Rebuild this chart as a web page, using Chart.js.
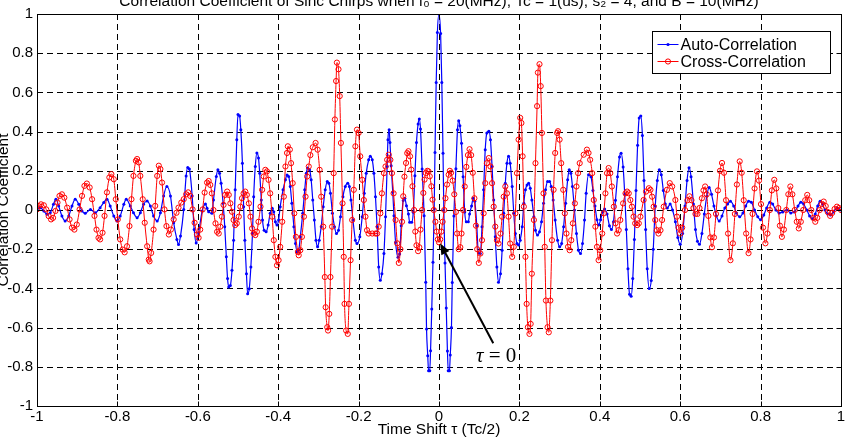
<!DOCTYPE html>
<html><head><meta charset="utf-8">
<script src="https://cdn.jsdelivr.net/npm/chart.js@4/dist/chart.umd.min.js"></script>
<style>html,body{margin:0;padding:0;background:#fff;overflow:hidden}#wrap{width:850px;height:438px}</style>
</head><body><div id="wrap"><canvas id="c" width="850" height="438"></canvas></div>
<script>
// ---------- data ----------
const titleText = "Correlation Coefficient of Sinc Chirps when f\u2080 = 20(MHz), Tc = 1(us), s\u2082 = 4, and B = 10(MHz)";
const xTitle = "Time Shift \u03C4 (Tc/2)";
const yTitle = "Correlation Coefficient";
const seriesNames = ["Auto-Correlation", "Cross-Correlation"];
const xTicks = [-1, -0.8, -0.6, -0.4, -0.2, 0, 0.2, 0.4, 0.6, 0.8, 1];
const yTicks = [-1, -0.8, -0.6, -0.4, -0.2, 0, 0.2, 0.4, 0.6, 0.8, 1];

// Auto-correlation: [time shift, coefficient]
const autoCorr = [
[-1.000,0],[-0.992,0.012],[-0.983,-0.005],[-0.975,-0.022],[-0.967,-0.014],[-0.959,0.029],[-0.953,0.055],[-0.946,0.02],[-0.938,-0.031],[-0.930,-0.056],
[-0.921,-0.031],[-0.913,0.02],[-0.905,0.055],[-0.896,0.029],[-0.888,-0.005],[-0.880,-0.017],[-0.867,0.003],[-0.855,-0.014],[-0.843,0.012],[-0.834,0.038],
[-0.826,0.055],[-0.818,0.02],[-0.809,-0.031],[-0.801,-0.056],[-0.793,-0.031],[-0.784,0.029],[-0.778,0.055],[-0.768,0.02],[-0.760,-0.014],[-0.751,-0.039],
[-0.743,-0.014],[-0.735,0.029],[-0.726,0.046],[-0.718,0.02],[-0.710,-0.031],[-0.701,-0.056],[-0.693,-0.014],[-0.685,0.072],[-0.677,0.12],[-0.668,0.072],
[-0.660,-0.065],[-0.652,-0.15],[-0.648,-0.176],[-0.643,-0.133],[-0.635,0.003],[-0.629,0.174],[-0.625,0.217],[-0.621,0.209],[-0.614,0.072],[-0.609,-0.099],
[-0.604,-0.168],[-0.598,-0.116],[-0.589,-0.005],[-0.581,0.03],[-0.577,0.009],[-0.573,-0.009],[-0.565,-0.017],[-0.561,0.051],[-0.554,0.171],[-0.550,0.205],
[-0.546,0.188],[-0.542,0.137],[-0.537,0.034],[-0.533,-0.085],[-0.529,-0.239],[-0.526,-0.35],[-0.523,-0.393],[-0.519,-0.385],[-0.515,-0.308],[-0.511,-0.154],
[-0.507,0.103],[-0.503,0.359],[-0.500,0.487],[-0.496,0.479],[-0.493,0.41],[-0.489,0.239],[-0.486,0.017],[-0.483,-0.154],[-0.479,-0.325],[-0.476,-0.427],
[-0.472,-0.402],[-0.468,-0.291],[-0.464,-0.12],[-0.461,0.068],[-0.457,0.222],[-0.453,0.291],[-0.449,0.265],[-0.446,0.188],[-0.442,0.051],[-0.439,-0.051],
[-0.435,-0.103],[-0.430,-0.111],[-0.425,-0.077],[-0.420,-0.017],[-0.415,0.009],[-0.411,-0.009],[-0.407,-0.06],[-0.403,-0.077],[-0.399,-0.051],[-0.395,0.017],
[-0.388,0.103],[-0.382,0.154],[-0.378,0.179],[-0.374,0.171],[-0.370,0.12],[-0.366,0.034],[-0.361,-0.085],[-0.357,-0.171],[-0.353,-0.214],[-0.349,-0.205],
[-0.345,-0.137],[-0.339,-0.017],[-0.334,0.103],[-0.330,0.188],[-0.327,0.214],[-0.322,0.205],[-0.318,0.154],[-0.314,0.051],[-0.310,-0.051],[-0.306,-0.154],
[-0.302,-0.188],[-0.298,-0.154],[-0.293,-0.085],[-0.288,0.017],[-0.283,0.103],[-0.278,0.145],[-0.274,0.137],[-0.270,0.085],[-0.265,-0.017],[-0.260,-0.085],
[-0.255,-0.12],[-0.250,-0.103],[-0.245,-0.034],[-0.239,0.068],[-0.233,0.12],[-0.227,0.137],[-0.223,0.12],[-0.219,0.051],[-0.214,-0.051],[-0.208,-0.154],
[-0.204,-0.171],[-0.197,-0.137],[-0.191,-0.034],[-0.186,0.085],[-0.181,0.188],[-0.175,0.256],[-0.171,0.274],[-0.166,0.256],[-0.162,0.188],[-0.158,0.068],
[-0.154,-0.085],[-0.150,-0.291],[-0.146,-0.359],[-0.142,-0.325],[-0.137,-0.222],[-0.133,-0.034],[-0.129,0.222],[-0.127,0.359],[-0.124,0.41],[-0.122,0.345],
[-0.119,0.226],[-0.115,0.09],[-0.112,-0.029],[-0.108,-0.165],[-0.102,-0.241],[-0.098,-0.224],[-0.094,-0.08],[-0.089,0.048],[-0.085,0.06],[-0.081,0.022],
[-0.076,-0.02],[-0.073,-0.063],[-0.068,-0.063],[-0.064,-0.012],[-0.060,0.175],[-0.056,0.345],[-0.052,0.439],[-0.049,0.464],[-0.046,0.413],[-0.042,0.209],
[-0.037,-0.029],[-0.033,-0.369],[-0.031,-0.607],[-0.028,-0.743],[-0.026,-0.82],[-0.023,-0.82],[-0.021,-0.718],[-0.018,-0.505],[-0.015,-0.267],[-0.012,0.005],
[-0.010,0.294],[-0.007,0.651],[-0.004,0.906],[0.000,1.0],[0.004,0.9],[0.007,0.65],[0.010,0.29],[0.012,0.0],[0.015,-0.27],[0.018,-0.5],
[0.021,-0.72],[0.023,-0.82],[0.026,-0.82],[0.028,-0.74],[0.031,-0.6],[0.033,-0.37],[0.037,-0.03],[0.042,0.21],[0.046,0.41],[0.049,0.455],
[0.052,0.43],[0.056,0.34],[0.060,0.17],[0.064,-0.01],[0.068,-0.06],[0.073,-0.06],[0.076,-0.02],[0.081,0.02],[0.085,0.06],[0.089,0.045],
[0.094,-0.08],[0.098,-0.22],[0.103,-0.222],[0.107,-0.085],[0.111,0.103],[0.115,0.308],[0.119,0.393],[0.124,0.402],[0.128,0.359],[0.132,0.222],
[0.136,0.051],[0.140,-0.137],[0.144,-0.291],[0.148,-0.368],[0.153,-0.325],[0.157,-0.205],[0.161,-0.017],[0.165,0.137],[0.169,0.239],[0.173,0.274],
[0.177,0.239],[0.182,0.12],[0.186,-0.017],[0.190,-0.12],[0.194,-0.171],[0.198,-0.179],[0.202,-0.154],[0.207,-0.085],[0.211,0.034],[0.215,0.103],
[0.219,0.128],[0.223,0.137],[0.227,0.111],[0.231,0.051],[0.236,-0.034],[0.240,-0.103],[0.245,-0.128],[0.250,-0.111],[0.255,-0.06],[0.260,0.034],
[0.265,0.103],[0.270,0.145],[0.275,0.145],[0.279,0.12],[0.284,0.051],[0.289,-0.051],[0.295,-0.154],[0.300,-0.188],[0.305,-0.171],[0.310,-0.085],
[0.315,0.034],[0.320,0.154],[0.324,0.205],[0.328,0.188],[0.332,0.12],[0.337,0.0],[0.342,-0.12],[0.347,-0.205],[0.352,-0.222],[0.357,-0.171],
[0.362,-0.051],[0.366,0.085],[0.372,0.18],[0.378,0.17],[0.383,0.1],[0.388,0.02],[0.393,-0.05],[0.397,-0.077],[0.402,-0.05],[0.407,-0.01],
[0.412,0.005],[0.418,-0.02],[0.424,-0.08],[0.429,-0.1],[0.434,-0.06],[0.439,0.05],[0.444,0.17],[0.449,0.27],[0.453,0.29],[0.458,0.22],
[0.462,0.08],[0.466,-0.1],[0.470,-0.3],[0.474,-0.43],[0.478,-0.44],[0.482,-0.35],[0.486,-0.15],[0.490,0.1],[0.494,0.33],[0.498,0.47],
[0.502,0.48],[0.506,0.38],[0.510,0.15],[0.514,-0.1],[0.518,-0.3],[0.523,-0.4],[0.528,-0.36],[0.533,-0.2],[0.538,0.02],[0.543,0.15],
[0.548,0.205],[0.553,0.18],[0.558,0.1],[0.563,0.03],[0.568,0.01],[0.575,0.03],[0.581,0.0],[0.588,-0.06],[0.594,-0.14],[0.600,-0.175],
[0.606,-0.12],[0.612,0.02],[0.617,0.15],[0.622,0.215],[0.627,0.17],[0.633,0.03],[0.638,-0.1],[0.643,-0.16],[0.648,-0.175],[0.654,-0.12],
[0.660,-0.02],[0.666,0.07],[0.672,0.115],[0.678,0.08],[0.684,0.02],[0.690,-0.03],[0.697,-0.056],[0.704,-0.03],[0.711,0.01],[0.718,0.03],
[0.725,0.045],[0.733,0.02],[0.740,-0.015],[0.748,-0.035],[0.756,-0.015],[0.763,0.02],[0.770,0.045],[0.777,0.04],[0.785,0.0],[0.793,-0.035],
[0.800,-0.05],[0.808,-0.025],[0.815,0.01],[0.823,0.04],[0.830,0.03],[0.838,0.0],[0.846,-0.015],[0.855,-0.01],[0.865,0.0],[0.875,-0.015],
[0.884,-0.01],[0.893,0.02],[0.900,0.04],[0.907,0.03],[0.915,0.0],[0.922,-0.03],[0.929,-0.045],[0.936,-0.02],[0.942,0.02],[0.948,0.045],
[0.954,0.03],[0.960,0.0],[0.967,-0.02],[0.974,-0.025],[0.981,-0.01],[0.990,0.01],[1.000,0.0]
];

// Cross-correlation: [time shift, coefficient]
const crossCorr = [
[-1.000,0.003],[-0.996,0.02],[-0.990,0.029],[-0.983,0.024],[-0.977,0.003],[-0.971,-0.031],[-0.965,-0.048],[-0.960,-0.04],[-0.954,-0.005],[-0.949,0.038],
[-0.944,0.072],[-0.938,0.08],[-0.932,0.063],[-0.925,0.012],[-0.919,-0.048],[-0.913,-0.09],[-0.907,-0.1],[-0.901,-0.074],[-0.894,0.003],[-0.888,0.072],
[-0.882,0.123],[-0.876,0.135],[-0.869,0.115],[-0.863,0.055],[-0.857,-0.03],[-0.852,-0.1],[-0.847,-0.142],[-0.843,-0.15],[-0.837,-0.116],[-0.832,-0.03],
[-0.826,0.09],[-0.820,0.166],[-0.815,0.183],[-0.809,0.157],[-0.804,0.055],[-0.799,-0.048],[-0.793,-0.15],[-0.787,-0.202],[-0.782,-0.216],[-0.776,-0.185],
[-0.770,-0.082],[-0.765,0.055],[-0.760,0.174],[-0.754,0.251],[-0.751,0.26],[-0.747,0.243],[-0.743,0.174],[-0.737,0.055],[-0.732,-0.065],[-0.726,-0.185],
[-0.722,-0.253],[-0.720,-0.262],[-0.716,-0.219],[-0.710,-0.1],[-0.706,0.021],[-0.701,0.174],[-0.697,0.226],[-0.693,0.209],[-0.689,0.14],[-0.683,0.003],
[-0.678,-0.082],[-0.672,-0.125],[-0.667,-0.1],[-0.660,-0.048],[-0.653,-0.014],[-0.648,0.012],[-0.641,0.038],[-0.635,0.055],[-0.629,0.08],[-0.624,0.09],
[-0.619,0.072],[-0.613,0.003],[-0.608,-0.065],[-0.602,-0.125],[-0.598,-0.142],[-0.594,-0.1],[-0.588,0.003],[-0.583,0.089],[-0.577,0.14],[-0.573,0.148],
[-0.569,0.128],[-0.565,0.085],[-0.561,0.0],[-0.556,-0.068],[-0.552,-0.111],[-0.548,-0.12],[-0.544,-0.085],[-0.540,-0.034],[-0.536,0.026],[-0.532,0.077],
[-0.527,0.094],[-0.523,0.077],[-0.519,0.034],[-0.515,-0.009],[-0.511,-0.051],[-0.507,-0.077],[-0.503,-0.068],[-0.498,-0.034],[-0.494,0.017],[-0.490,0.06],
[-0.486,0.085],[-0.482,0.094],[-0.478,0.077],[-0.473,0.034],[-0.469,-0.034],[-0.465,-0.094],[-0.461,-0.12],[-0.457,-0.128],[-0.453,-0.111],[-0.449,-0.06],
[-0.444,0.017],[-0.440,0.103],[-0.436,0.171],[-0.432,0.205],[-0.428,0.197],[-0.424,0.154],[-0.420,0.085],[-0.415,-0.034],[-0.411,-0.154],[-0.407,-0.239],
[-0.403,-0.282],[-0.399,-0.256],[-0.395,-0.188],[-0.390,-0.06],[-0.386,0.068],[-0.382,0.222],[-0.378,0.291],[-0.376,0.325],[-0.371,0.308],[-0.368,0.239],
[-0.364,0.137],[-0.360,-0.017],[-0.356,-0.137],[-0.351,-0.214],[-0.349,-0.231],[-0.345,-0.205],[-0.341,-0.137],[-0.336,-0.034],[-0.332,0.068],[-0.328,0.171],
[-0.324,0.222],[-0.320,0.28],[-0.314,0.32],[-0.307,0.342],[-0.302,0.308],[-0.297,0.205],[-0.293,0.068],[-0.288,-0.085],[-0.284,-0.342],[-0.282,-0.496],
[-0.278,-0.598],[-0.276,-0.615],[-0.273,-0.53],[-0.270,-0.342],[-0.266,-0.085],[-0.262,0.188],[-0.259,0.462],[-0.256,0.658],[-0.254,0.752],[-0.250,0.718],
[-0.247,0.581],[-0.244,0.342],[-0.240,0.034],[-0.237,-0.239],[-0.235,-0.479],[-0.231,-0.615],[-0.227,-0.632],[-0.224,-0.479],[-0.220,-0.256],[-0.216,-0.051],
[-0.212,0.103],[-0.208,0.325],[-0.204,0.41],[-0.200,0.393],[-0.196,0.274],[-0.191,0.154],[-0.187,0.051],[-0.183,-0.034],[-0.179,-0.103],[-0.175,-0.12],
[-0.166,-0.12],[-0.158,-0.12],[-0.154,-0.12],[-0.150,-0.085],[-0.146,-0.017],[-0.142,0.085],[-0.137,0.188],[-0.133,0.222],[-0.129,0.256],[-0.125,0.282],
[-0.121,0.256],[-0.117,0.188],[-0.113,0.085],[-0.108,-0.051],[-0.104,-0.17],[-0.100,-0.27],[-0.096,-0.2],[-0.092,-0.06],[-0.089,0.07],[-0.086,0.17],
[-0.082,0.24],[-0.079,0.29],[-0.076,0.3],[-0.072,0.274],[-0.069,0.206],[-0.066,0.121],[-0.062,0.0],[-0.059,-0.11],[-0.056,-0.18],[-0.052,-0.21],
[-0.049,-0.19],[-0.046,-0.1],[-0.042,0.0],[-0.039,0.087],[-0.036,0.155],[-0.033,0.189],[-0.029,0.2],[-0.026,0.197],[-0.023,0.172],[-0.019,0.121],
[-0.016,0.053],[-0.013,0.0],[-0.009,-0.06],[-0.006,-0.11],[-0.003,-0.15],[0.000,-0.165],[0.003,-0.15],[0.006,-0.11],[0.009,-0.06],[0.013,0.0],
[0.016,0.06],[0.020,0.13],[0.024,0.18],[0.027,0.2],[0.030,0.19],[0.034,0.15],[0.038,0.08],[0.042,-0.01],[0.045,-0.12],[0.049,-0.2],
[0.053,-0.19],[0.056,-0.12],[0.060,0.0],[0.064,0.12],[0.068,0.22],[0.072,0.28],[0.076,0.31],[0.080,0.28],[0.084,0.19],[0.088,0.06],
[0.092,-0.08],[0.095,-0.2],[0.099,-0.27],[0.103,-0.222],[0.107,-0.154],[0.111,-0.017],[0.115,0.137],[0.119,0.239],[0.124,0.265],[0.128,0.222],
[0.132,0.137],[0.136,0.017],[0.140,-0.085],[0.144,-0.154],[0.148,-0.171],[0.153,-0.12],[0.157,-0.034],[0.161,0.068],[0.165,0.12],[0.169,0.085],
[0.173,-0.034],[0.177,-0.171],[0.182,-0.239],[0.186,-0.188],[0.190,-0.017],[0.194,0.188],[0.198,0.359],[0.202,0.47],[0.205,0.444],[0.208,0.274],
[0.211,0.017],[0.215,-0.239],[0.218,-0.479],[0.221,-0.598],[0.225,-0.632],[0.228,-0.581],[0.231,-0.325],[0.236,-0.051],[0.240,0.239],[0.244,0.53],
[0.246,0.701],[0.250,0.744],[0.253,0.632],[0.256,0.393],[0.260,0.085],[0.263,-0.188],[0.266,-0.462],[0.270,-0.598],[0.273,-0.624],[0.277,-0.462],
[0.281,-0.154],[0.285,0.103],[0.289,0.291],[0.294,0.393],[0.296,0.402],[0.300,0.359],[0.304,0.239],[0.309,0.103],[0.313,-0.017],[0.317,-0.12],
[0.321,-0.188],[0.325,-0.205],[0.329,-0.154],[0.333,-0.068],[0.338,0.034],[0.342,0.12],[0.346,0.188],[0.350,0.239],[0.360,0.282],[0.368,0.308],
[0.372,0.291],[0.376,0.256],[0.381,0.188],[0.385,0.051],[0.389,-0.085],[0.393,-0.188],[0.397,-0.256],[0.401,-0.205],[0.406,-0.12],[0.410,-0.017],
[0.414,0.085],[0.418,0.188],[0.422,0.214],[0.426,0.188],[0.430,0.12],[0.435,0.017],[0.439,-0.068],[0.443,-0.12],[0.447,-0.103],[0.451,-0.051],
[0.458,0.034],[0.464,0.085],[0.468,0.094],[0.472,0.085],[0.476,0.051],[0.480,0.017],[0.484,-0.034],[0.488,-0.068],[0.493,-0.077],[0.497,-0.068],
[0.501,-0.034],[0.509,0.051],[0.515,0.094],[0.522,0.111],[0.526,0.103],[0.530,0.068],[0.534,0.017],[0.538,-0.051],[0.542,-0.103],[0.546,-0.12],
[0.551,-0.103],[0.555,-0.051],[0.559,0.017],[0.567,0.103],[0.574,0.137],[0.580,0.12],[0.588,0.051],[0.592,-0.034],[0.596,-0.09],[0.600,-0.12],
[0.605,-0.09],[0.612,0.0],[0.618,0.05],[0.623,0.07],[0.628,0.05],[0.633,0.01],[0.638,-0.02],[0.643,-0.02],[0.648,0.01],[0.654,0.06],
[0.658,0.1],[0.662,0.12],[0.666,0.08],[0.670,-0.03],[0.675,-0.14],[0.679,-0.19],[0.684,-0.14],[0.689,-0.02],[0.694,0.1],[0.699,0.2],
[0.704,0.24],[0.709,0.19],[0.714,0.05],[0.719,-0.12],[0.725,-0.256],[0.731,-0.17],[0.736,-0.02],[0.741,0.13],[0.748,0.248],[0.753,0.19],
[0.758,0.05],[0.764,-0.12],[0.770,-0.22],[0.775,-0.15],[0.780,-0.02],[0.785,0.11],[0.791,0.197],[0.796,0.15],[0.801,0.03],[0.806,-0.09],
[0.812,-0.17],[0.817,-0.12],[0.823,0.0],[0.828,0.1],[0.834,0.154],[0.839,0.11],[0.844,0.01],[0.848,-0.08],[0.853,-0.137],[0.858,-0.1],
[0.864,0.0],[0.869,0.08],[0.874,0.12],[0.879,0.08],[0.885,0.0],[0.890,-0.06],[0.895,-0.094],[0.900,-0.06],[0.906,0.0],[0.911,0.05],
[0.916,0.077],[0.921,0.05],[0.926,0.0],[0.931,-0.04],[0.936,-0.06],[0.941,-0.04],[0.947,0.0],[0.952,0.03],[0.957,0.043],[0.962,0.02],
[0.967,-0.01],[0.973,-0.03],[0.978,-0.015],[0.984,0.005],[0.990,0.017],[0.995,0.01],[1.000,0.0]
];

// annotation (data coordinates of arrow tip / tail and label)
const arrowTip = [0.003, -0.17];
const arrowTail = [0.135, -0.68];
const arrowLabel = [0.142, -0.775];

// ---------- chart ----------
const pts = arr => arr.map(p => ({x: p[0], y: p[1]}));
const FONT = "'Liberation Sans', Arial, Helvetica, sans-serif";

const decor = {
  id: 'decor',
  beforeDatasetsDraw(chart) {
    const {ctx, chartArea: a, scales: {x, y}} = chart;
    ctx.save();
    ctx.strokeStyle = '#000'; ctx.lineWidth = 1; ctx.setLineDash([6, 4]);
    ctx.beginPath();
    xTicks.forEach(v => { if (v > -1 && v < 1) { const p = Math.round(x.getPixelForValue(v)) + 0.5; ctx.moveTo(p, a.top); ctx.lineTo(p, a.bottom); } });
    yTicks.forEach(v => { if (v > -1 && v < 1) { const p = Math.round(y.getPixelForValue(v)) + 0.5; ctx.moveTo(a.left, p); ctx.lineTo(a.right, p); } });
    ctx.stroke();
    ctx.restore();
  },
  afterDatasetsDraw(chart) {
    const {ctx, chartArea: a, scales: {x, y}} = chart;
    ctx.save();
    ctx.strokeStyle = '#000'; ctx.lineWidth = 1; ctx.setLineDash([]);
    const L = Math.round(a.left) + 0.5, R = Math.round(a.right) + 0.5, T = Math.round(a.top) + 0.5, B = Math.round(a.bottom) + 0.5;
    ctx.strokeRect(L, T, R - L, B - T);
    ctx.beginPath();
    xTicks.forEach(v => { const p = Math.round(x.getPixelForValue(v)) + 0.5; ctx.moveTo(p, B); ctx.lineTo(p, B - 5); ctx.moveTo(p, T); ctx.lineTo(p, T + 5); });
    yTicks.forEach(v => { const p = Math.round(y.getPixelForValue(v)) + 0.5; ctx.moveTo(L, p); ctx.lineTo(L + 5, p); ctx.moveTo(R, p); ctx.lineTo(R - 5, p); });
    ctx.stroke();

    // arrow annotation
    const tx = x.getPixelForValue(arrowTip[0]), ty = y.getPixelForValue(arrowTip[1]);
    const sx = x.getPixelForValue(arrowTail[0]), sy = y.getPixelForValue(arrowTail[1]);
    const ang = Math.atan2(ty - sy, tx - sx);
    const hl = 11, hw = 4.5;
    const bx = tx - hl * Math.cos(ang), by = ty - hl * Math.sin(ang);
    ctx.lineWidth = 2;
    ctx.beginPath(); ctx.moveTo(sx, sy); ctx.lineTo(bx, by); ctx.stroke();
    ctx.fillStyle = '#000';
    ctx.beginPath();
    ctx.moveTo(tx, ty);
    ctx.lineTo(bx + hw * Math.sin(ang), by - hw * Math.cos(ang));
    ctx.lineTo(bx - hw * Math.sin(ang), by + hw * Math.cos(ang));
    ctx.closePath(); ctx.fill();
    const lx = x.getPixelForValue(arrowLabel[0]), ly = y.getPixelForValue(arrowLabel[1]);
    ctx.textBaseline = 'alphabetic'; ctx.textAlign = 'left';
    const serifI = "italic 21px 'Liberation Serif', 'Times New Roman', serif", serif = "21px 'Liberation Serif', 'Times New Roman', serif";
    ctx.font = serifI; const w1 = ctx.measureText('\u03C4').width;
    ctx.font = serif; const w2 = ctx.measureText(' = 0').width;
    const x0 = lx - (w1 + w2) / 2;
    ctx.font = serifI; ctx.fillText('\u03C4', x0, ly);
    ctx.font = serif; ctx.fillText(' = 0', x0 + w1, ly);

    // legend
    const lgL = 652.5, lgT = 31.5, lgW = 178, lgH = 42;
    ctx.fillStyle = '#fff'; ctx.fillRect(lgL, lgT, lgW, lgH);
    ctx.lineWidth = 1; ctx.strokeStyle = '#000'; ctx.strokeRect(lgL, lgT, lgW, lgH);
    ctx.font = '16px ' + FONT; ctx.textBaseline = 'middle'; ctx.fillStyle = '#000';
    const rows = [[seriesNames[0], '#0000ff', 'dot', lgT + 13], [seriesNames[1], '#ff0000', 'circ', lgT + 30]];
    rows.forEach(([txt, col, mk, yy]) => {
      ctx.strokeStyle = col; ctx.lineWidth = 1;
      ctx.beginPath(); ctx.moveTo(lgL + 5, yy); ctx.lineTo(lgL + 26, yy); ctx.stroke();
      if (mk === 'dot') { ctx.fillStyle = col; ctx.beginPath(); ctx.arc(lgL + 15.5, yy, 1.6, 0, 2 * Math.PI); ctx.fill(); }
      else { ctx.beginPath(); ctx.arc(lgL + 15.5, yy, 2.6, 0, 2 * Math.PI); ctx.stroke(); }
      ctx.fillStyle = '#000'; ctx.fillText(txt, lgL + 28, yy + 1);
    });
    ctx.restore();
  },
  afterDraw(chart) {
    const {ctx, chartArea: a} = chart;
    ctx.save();
    ctx.fillStyle = '#000';
    ctx.font = '15.5px ' + FONT; ctx.textAlign = 'center'; ctx.textBaseline = 'alphabetic';
    ctx.fillText(titleText, (a.left + a.right) / 2, 6);
    ctx.fillText(xTitle, (a.left + a.right) / 2, 434);
    ctx.translate(8, (a.top + a.bottom) / 2); ctx.rotate(-Math.PI / 2);
    ctx.fillText(yTitle, 0, 0);
    ctx.restore();
  }
};

const fmt = v => String(Math.round(v * 10) / 10);

new Chart(document.getElementById('c'), {
  type: 'line',
  data: {
    datasets: [
      { label: seriesNames[1], data: pts(crossCorr), borderColor: '#ff0000', borderWidth: 1,
        pointStyle: 'circle', pointRadius: 2.6, pointBorderWidth: 1, pointBorderColor: '#ff0000', pointBackgroundColor: 'rgba(0,0,0,0)',
        cubicInterpolationMode: 'monotone', order: 0 },
      { label: seriesNames[0], data: pts(autoCorr), borderColor: '#0000ff', borderWidth: 1.2,
        pointStyle: 'circle', pointRadius: 1.5, pointBorderWidth: 0, pointBackgroundColor: '#0000ff',
        cubicInterpolationMode: 'monotone', order: 1 }
    ]
  },
  options: {
    responsive: false, animation: false, devicePixelRatio: 1,
    layout: { padding: { top: 14, right: 9, left: 0, bottom: 0 } },
    plugins: { legend: { display: false }, tooltip: { enabled: false }, title: { display: false } },
    scales: {
      x: { type: 'linear', min: -1, max: 1,
        afterBuildTicks: s => { s.ticks = xTicks.map(v => ({ value: v })); },
        afterFit: s => { s.height = 32; },
        grid: { display: false, drawTicks: false }, border: { display: false },
        ticks: { font: { size: 15, family: FONT }, color: '#000', padding: 2, maxRotation: 0, autoSkip: false, callback: v => fmt(v) } },
      y: { type: 'linear', min: -1, max: 1,
        afterBuildTicks: s => { s.ticks = yTicks.map(v => ({ value: v })); },
        afterFit: s => { s.width = 37; },
        grid: { display: false, drawTicks: false }, border: { display: false },
        ticks: { font: { size: 15, family: FONT }, color: '#000', padding: 4, autoSkip: false, callback: v => fmt(v) } }
    }
  },
  plugins: [decor]
});
</script>
</body></html>
